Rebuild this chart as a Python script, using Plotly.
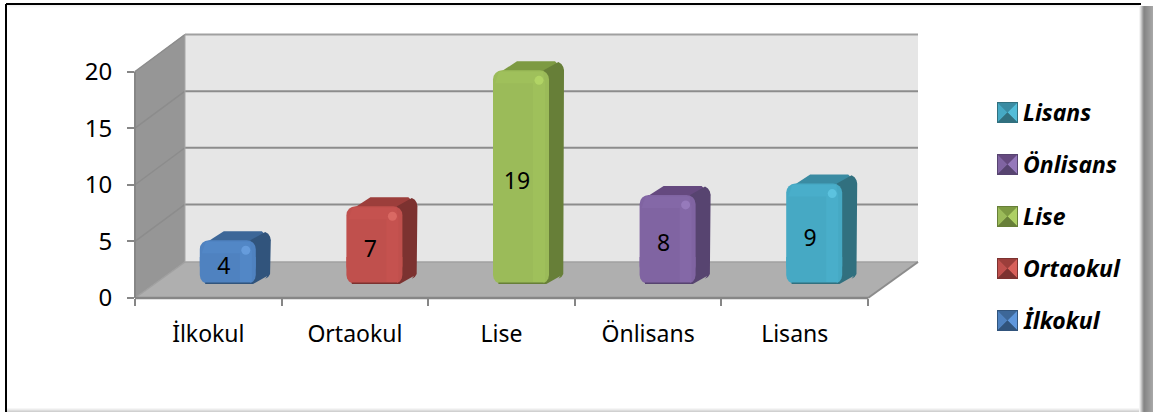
import plotly.graph_objects as go

categories = ["İlkokul", "Ortaokul", "Lise", "Önlisans", "Lisans"]
values = [4, 7, 19, 8, 9]
y_ticks = [0, 5, 10, 15, 20]
front = ["#4f82c0", "#c0504d", "#9bbb59", "#8064a2", "#46a9c4"]
light = ["#5287c6", "#c5524f", "#9fc05b", "#8468a7", "#49aeca"]
spot = ["#7ab2f2", "#f08078", "#c4e870", "#a88cd0", "#70d8f4"]
swatch = ["#5f97dc", "#d8605a", "#aed065", "#9578bb", "#52bcd8"]
top = ["#3d6798", "#9c3e3b", "#7d9a42", "#65497f", "#3a8ba2"]
side = ["#31547c", "#7c3230", "#677f38", "#574470", "#31707f"]

W, H = 1153, 412
L, R, T, B = 135, 918, 34, 298
UX = (868 - 135) / 5
UY = (298 - 71.5) / 20
BAR_W, BAR_DX, BAR_DY = 56, 19.5, 14
DEP_X, DEP_Y, RAD = 15, 9, 9
TRIM = 1.5
FONT = "Noto Sans"


def ux(p):
    return p / UX


def uy(p):
    return p / UY


def px2x(p):
    return (p - L) / UX - 0.5


def px2y(p):
    return (B - p) / UY


def fx(p):
    return (p - L) / (R - L)


def fy(p):
    return (B - p) / (B - T)


def poly(pts, color, zorder):
    return go.Scatter(x=[p[0] for p in pts] + [pts[0][0]], y=[p[1] for p in pts] + [pts[0][1]],
                      mode="lines", fill="toself", fillcolor=color, line=dict(width=0, color=color),
                      hoverinfo="skip", showlegend=False, zorder=zorder)


def arc(cx, cy, sx, sy):
    k = [(0, 1), (0.38, 0.92), (0.71, 0.71), (0.92, 0.38), (1, 0)]
    return [(cx + sx * ux(RAD) * a, cy + sy * uy(RAD) * b) for a, b in k]


fig = go.Figure()
shapes = []
GRID = "#868686"


def seg(x0, y0, x1, y1, color=GRID, width=2):
    shapes.append(dict(type="line", xref="paper", yref="paper", x0=fx(x0), x1=fx(x1), y0=fy(y0), y1=fy(y1),
                       line=dict(color=color, width=width), layer="below"))


def quad(pts, color):
    path = "M" + "L".join(f"{fx(x):.5f},{fy(y):.5f}" for x, y in pts) + "Z"
    shapes.append(dict(type="path", xref="paper", yref="paper", path=path, fillcolor=color,
                       line=dict(width=0), layer="below"))


# walls and floor
quad([(185, 34), (918, 34), (918, 262), (185, 262)], "#e6e6e6")
quad([(135, 71.5), (185, 34), (185, 262), (135, 298)], "#969696")
quad([(135, 298), (185, 262), (918, 262), (868, 298)], "#afafaf")
for t in y_ticks[1:]:
    yf = 298 - t * UY
    yb = yf - 37
    seg(185, yb, 918, yb, "#8c8c8c" if t < 20 else "#a0a0a0", 2)
    seg(135, yf, 185, yb, "#8c8c8c", 1.5)
seg(185, 262, 918, 262, "#a0a0a0", 1.5)
seg(135, 298, 185, 262, "#a0a0a0", 1.5)
seg(868, 298, 918, 262, "#8c8c8c", 2)
seg(135, 298, 868, 298, "#868686", 2.5)
seg(135, 71.5, 135, 298, "#868686", 2)
seg(185, 34, 185, 262, "#a8a8a8", 1)

# bars
base = uy(BAR_DY)
bottom = uy(RAD)
trim = uy(TRIM)
xs = [i + ux(BAR_DX) for i in range(len(values))]
fig.add_trace(go.Bar(x=xs, y=[v - bottom - trim for v in values], base=[base + bottom] * len(values),
                     width=ux(BAR_W), marker=dict(color=front, line=dict(width=0), cornerradius=RAD),
                     hoverinfo="skip", showlegend=False, zorder=2))
for i, v in enumerate(values):
    xl, xr = xs[i] - ux(BAR_W) / 2, xs[i] + ux(BAR_W) / 2
    yb, yt = base, base + v - trim
    dx, dy = ux(DEP_X), uy(DEP_Y)
    r, ry = ux(RAD), uy(RAD)
    # top face
    pts = [(xl + r * 0.2, yt - ry * 0.6), (xl + dx, yt + dy - ry * 0.6), (xl + dx + r, yt + dy),
           (xr + dx - r, yt + dy), (xr + dx, yt + dy - ry), (xr, yt - ry)]
    fig.add_trace(poly(pts, top[i], 1))
    # side face
    pts = [(xr - r * 0.6, yt)] + arc(xr + dx - r, yt + dy - ry, 1, 1)[1:]
    pts += arc(xr + dx - r, yb + dy + ry * 0.5, 1, -1)[::-1][:-1]
    pts += [(xr + dx - r * 0.4, yb + dy - ry * 0.1), (xr - r * 0.3, yb), (xr - r, yb)]
    fig.add_trace(poly(pts, side[i], 1))
    # rounded foot of the front face
    pts = arc(xl + r, yb + ry, -1, -1)[::-1] + arc(xr - r, yb + ry, 1, -1)
    pts += [(xr, yb + 3 * ry), (xl, yb + 3 * ry)]
    fig.add_trace(poly(pts, front[i], 3))
    # bevels
    st = ux(12)
    fig.add_trace(poly([(xr - st - ux(4), yb + uy(2)), (xr - ux(4), yb + uy(2)), (xr - ux(4), yt - uy(10)),
                        (xr - st - ux(4), yt - uy(10))], light[i], 3))
    fig.add_trace(poly([(xl + ux(6), yt - uy(1.5)), (xr - ux(6), yt - uy(1.5)), (xr - ux(4), yt - uy(13)),
                        (xl + ux(2), yt - uy(13))], light[i], 3))
    fig.add_trace(go.Scatter(x=[xr - ux(10)], y=[yt - uy(10)], mode="markers",
                             marker=dict(size=9, color=spot[i], line=dict(width=0), opacity=0.5),
                             hoverinfo="skip", showlegend=False, zorder=4))
    fig.add_trace(go.Scatter(x=[xl + r * 0.6, xr - r * 0.6], y=[yb + uy(0.7)] * 2, mode="lines",
                             line=dict(color=side[i], width=1.5), hoverinfo="skip", showlegend=False, zorder=4))

# data labels
fig.add_trace(go.Scatter(x=[x - ux(4) for x in xs], y=[base + v / 2 - uy(7) for v in values], mode="text",
                         text=[str(v) for v in values], textposition="middle center",
                         textfont=dict(family=FONT, size=23, color="#000"), hoverinfo="skip",
                         showlegend=False, zorder=5))

# legend
LEG_TOP = [102, 154, 206, 258, 310]
annotations = []
for row, idx in enumerate(range(len(categories) - 1, -1, -1)):
    y0 = LEG_TOP[row]
    x0, s = 997, 21
    x1, y1 = x0 + s, y0 + s
    cx, cy = x0 + s / 2, y0 + s / 2
    quad([(x0, y0), (x1, y0), (x1, y1), (x0, y1)], side[idx])
    quad([(x0 + 1, y0 + 1), (x1 - 1, y0 + 1), (cx, cy)], top[idx])
    quad([(x1 - 1, y0 + 1), (x1 - 1, y1 - 1), (cx, cy)], swatch[idx])
    quad([(x0 + 1, y0 + 1), (x0 + 1, y1 - 1), (cx, cy)], front[idx])
    quad([(x0 + 1, y1 - 1), (x1 - 1, y1 - 1), (cx, cy)], side[idx])
    annotations.append(dict(xref="paper", yref="paper", x=fx(1021), y=fy(y0 + s / 2 - 1), xanchor="left",
                            yanchor="middle", showarrow=False, text=f"<b><i>{categories[idx]}</i></b>",
                            font=dict(family="Comic Sans MS, Noto Sans", size=23, color="#000")))

# frame and shadow
for k, c in enumerate(["#f2f2f2", "#f8f8f8", "#fcfcfc"]):
    quad([(7, 5 + k), (1139, 5 + k), (1139, 6 + k), (7, 6 + k)], c)
seg(6, 4, 1141, 4, "#000", 2)
seg(6, 4, 6, 412, "#000", 2)
for k, c in enumerate(["#f4f4f4", "#dedede", "#c4c4c4", "#a8a8a8", "#909090", "#868686", "#8a8a8a", "#8e8e8e",
                       "#929292", "#969696", "#9a9a9a", "#9e9e9e", "#a2a2a2", "#a6a6a6"]):
    quad([(1139 + k, 6), (1140 + k, 6), (1140 + k, H), (1139 + k, H)], c)
for k, c in enumerate(["#f6f6f6", "#ececec", "#dddddd", "#d0d0d0"]):
    quad([(7, 408 + k), (1139, 408 + k), (1139, 409 + k), (7, 409 + k)], c)

fig.update_layout(
    width=W, height=H, autosize=False, margin=dict(l=L, r=W - R, t=T, b=H - B),
    paper_bgcolor="#fff", plot_bgcolor="rgba(0,0,0,0)", shapes=shapes, annotations=annotations,
    showlegend=False, barmode="overlay",
    font=dict(family=FONT, color="#000"),
    xaxis=dict(range=[-0.5, px2x(R)], tickmode="array", tickvals=list(range(len(categories))), ticktext=categories,
               tickfont=dict(size=23), ticks="", ticklabelstandoff=20, showgrid=False, zeroline=False, showline=False,
               minor=dict(tickmode="array", tickvals=[i - 0.5 for i in range(len(categories) + 1)], ticks="outside",
                          ticklen=7, tickwidth=2, tickcolor=GRID, showgrid=False)),
    yaxis=dict(range=[0, px2y(T)], tickmode="array", tickvals=y_ticks, tickfont=dict(size=24), ticks="outside",
               ticklen=7, tickwidth=2, tickcolor=GRID, ticklabelstandoff=10, showgrid=False, zeroline=False,
               showline=False),
)
fig.write_html("out.html", config={"displayModeBar": False},
               post_script="document.body.style.margin='0';document.documentElement.style.overflow='hidden';")
